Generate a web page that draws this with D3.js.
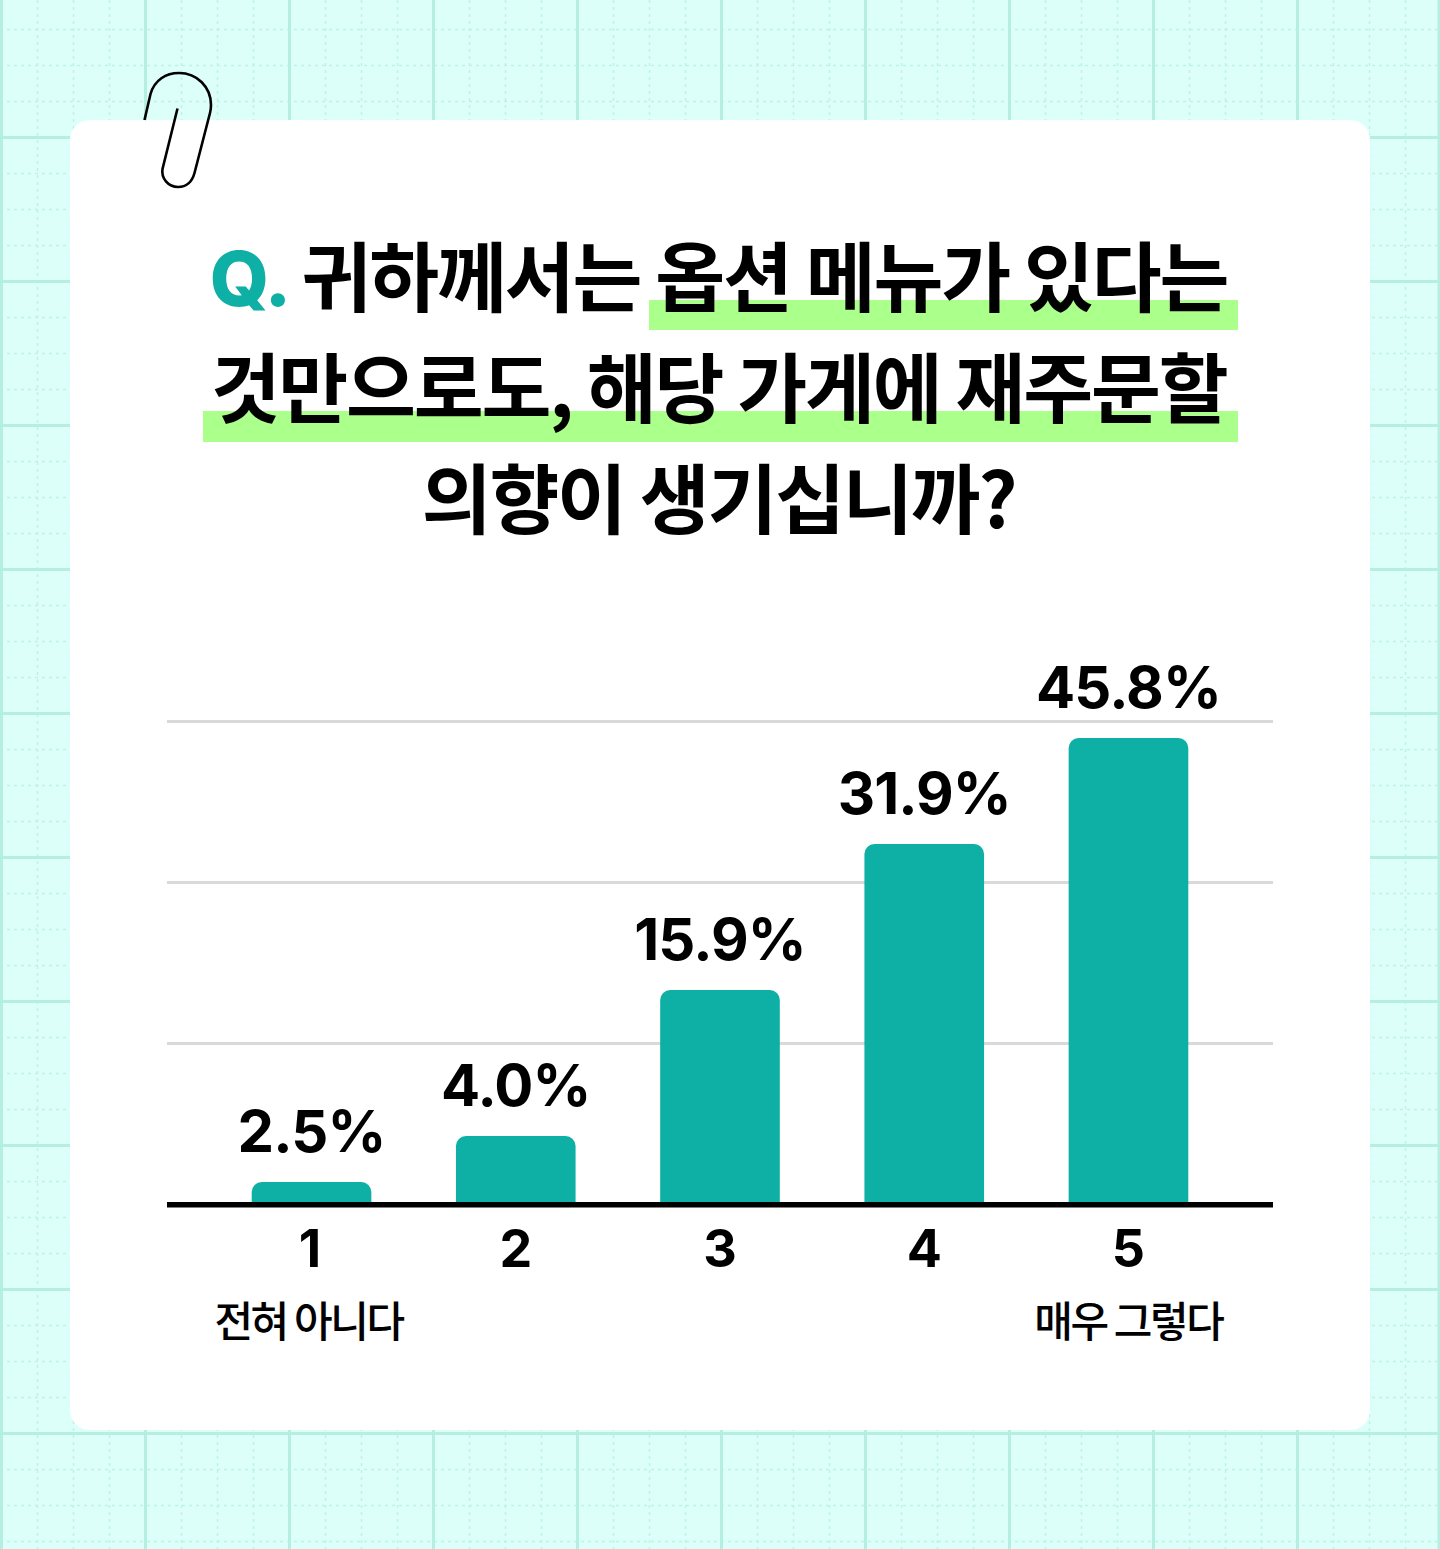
<!DOCTYPE html>
<html><head><meta charset="utf-8">
<script src="https://cdn.jsdelivr.net/npm/d3@7/dist/d3.min.js"></script>
<style>html,body{margin:0;padding:0;background:#dcfff9}svg{display:block}</style>
</head><body><div id="chart"></div>
<script>
const categories = ["1","2","3","4","5"];
const values = [2.5,4.0,15.9,31.9,45.8];
const valueLabels = ["2.5%","4.0%","15.9%","31.9%","45.8%"];
const scaleAnchors = [0,2.5,4.0,15.9,31.9,45.8];
const gridSteps = [1,2,3];
const endLabels = {"1":"전혀 아니다","5":"매우 그렇다"};
const titleLines = [
  [{t:"Q. ",c:"#0eafa5",f:"Inter"},{t:"귀하께서는 "},{t:"옵션 메뉴가 있다는"}],
  [{t:"것만으로도, 해당 가게에 재주문할"}],
  [{t:"의향이 생기십니까?"}]
];
const W=1440,H=1549;
const svg=d3.select("#chart").append("svg").attr("width",W).attr("height",H);
svg.append("rect").attr("width",W).attr("height",H).attr("fill","#dcfff9");
const minorX=d3.range(1.5,W,36), minorY=d3.range(29.5,H,36);
const bg=svg.append("g");
bg.selectAll(".mx").data(minorX).join("line").attr("x1",d=>d).attr("x2",d=>d).attr("y1",0).attr("y2",H)
  .attr("stroke","#bdf2e4").attr("stroke-width",1.5).attr("stroke-dasharray","3 4");
bg.selectAll(".my").data(minorY).join("line").attr("y1",d=>d).attr("y2",d=>d).attr("x1",0).attr("x2",W)
  .attr("stroke","#bdf2e4").attr("stroke-width",1.5).attr("stroke-dasharray","3 4");
bg.selectAll(".Mx").data(d3.range(1.5,W,144)).join("line").attr("x1",d=>d).attr("x2",d=>d).attr("y1",0).attr("y2",H)
  .attr("stroke","#b6efdf").attr("stroke-width",3);
bg.selectAll(".My").data(d3.range(137.5,H,144)).join("line").attr("y1",d=>d).attr("y2",d=>d).attr("x1",0).attr("x2",W)
  .attr("stroke","#b6efdf").attr("stroke-width",3);
bg.append("line").attr("x1",1439).attr("x2",1439).attr("y1",0).attr("y2",H).attr("stroke","#b6efdf").attr("stroke-width",3);

svg.append("rect").attr("x",70).attr("y",120).attr("width",1300).attr("height",1310).attr("rx",20).attr("fill","#fff");
svg.append("path").attr("d","M144.5 120 L150.5 94 C154.5 80 166 73 179 73 C197 73 211 87 211 105 C211 108 210.5 111 210 113 L194.5 173 C192 182 186 187 178 187 C168 187 161 178 162.5 169 L177.5 108.5")
  .attr("fill","none").attr("stroke","#000").attr("stroke-width",2.6);

// highlights
const hl=svg.append("g");
hl.append("rect").attr("x",649).attr("y",300).attr("width",589).attr("height",30).attr("fill","#abff8b");
hl.append("rect").attr("x",203).attr("y",411).attr("width",1035).attr("height",31).attr("fill","#abff8b");

// title
const titleFont="'Noto Sans CJK KR'";
const titleG=svg.append("g").attr("text-anchor","middle").attr("font-family",titleFont).attr("font-weight",700).attr("font-size",76).attr("letter-spacing",-2.2).attr("fill","#000");
titleLines.forEach((ln,i)=>{
  const t=titleG.append("text").attr("x",718.5).attr("y",305.5+i*111);
  ln.forEach(s=>{const ts=t.append("tspan").text(s.t);
    if(s.c)ts.attr("fill",s.c);
    if(s.f)ts.attr("font-family",s.f).attr("font-weight",800).attr("letter-spacing",-1.5);});
});

// scales
const x=d3.scaleBand().domain(categories).range([209.4,1230.6]).paddingInner(0.4142).paddingOuter(0.2071);
const y=d3.scaleLinear().domain(scaleAnchors).range([1202,1182,1136,990,844,738]);
const gridScale=d3.scaleLinear().domain([0,3]).range([1204.5,721.5]);
const g=svg.append("g");
g.selectAll(".grid").data(gridSteps).join("line").attr("x1",167).attr("x2",1273).attr("y1",d=>gridScale(d)).attr("y2",d=>gridScale(d))
 .attr("stroke","#d9d9d9").attr("stroke-width",3);
const bw=x.bandwidth();
const rows=categories.map((c,i)=>({c,v:values[i],l:valueLabels[i]}));
g.selectAll(".bar").data(rows).join("path")
 .attr("fill","#0eafa5")
 .attr("d",d=>{const X=x(d.c),Y=y(d.v),B=y(0)+2,r=10,p=d3.path();
   p.moveTo(X,B);p.lineTo(X,Y+r);p.arcTo(X,Y,X+r,Y,r);p.lineTo(X+bw-r,Y);p.arcTo(X+bw,Y,X+bw,Y+r,r);p.lineTo(X+bw,B);p.closePath();return p.toString();});
g.append("line").attr("x1",167).attr("x2",1273).attr("y1",1204.7).attr("y2",1204.7).attr("stroke","#000").attr("stroke-width",5.6);
g.selectAll(".val").data(rows).join("text")
 .attr("x",d=>x(d.c)+bw/2).attr("y",d=>y(d.v)-30).attr("text-anchor","middle")
 .attr("font-family","Inter").attr("font-weight",700).attr("font-size",58).attr("letter-spacing",-0.9).attr("fill","#000").text(d=>d.l);
g.selectAll(".cat").data(categories).join("text").attr("x",d=>x(d)+bw/2-(d==="1"?1.5:0)).attr("y",1267).attr("text-anchor","middle")
 .attr("font-family","Inter").attr("font-weight",700).attr("font-size",52).attr("fill","#000").text(d=>d);
g.selectAll(".end").data(Object.keys(endLabels)).join("text").attr("x",d=>x(d)+bw/2-(d==="1"?3:0)).attr("y",1337).attr("text-anchor","middle")
 .attr("font-family",titleFont).attr("font-weight",500).attr("font-size",42).attr("letter-spacing",-2.4).attr("fill","#000").text(d=>endLabels[d]);
</script></body></html>
